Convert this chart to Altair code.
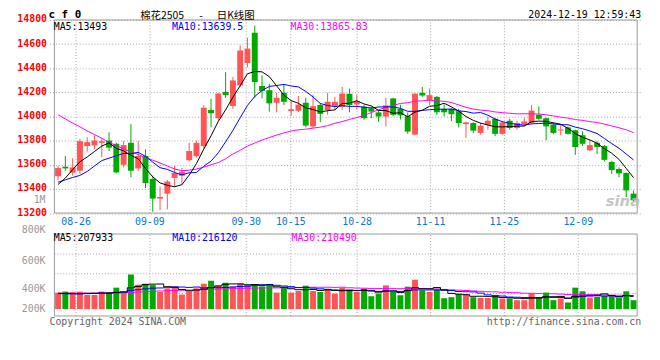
import altair as alt
import pandas as pd

# ---------------- data ----------------
opens = [13505,13584,13535,13551,13755,13761,13782,13801,13774,13600,
         13782,13570,13673,13483,13320,13361,13491,13510,13638,13673,
         13755,14054,13986,14204,14087,14258,14444,14694,14253,14218,
         14114,14196,14045,14048,14114,13918,14095,14054,14088,14080,
         14188,14100,14082,14068,14034,14000,14150,14063,14003,13850,
         14196,14136,14163,14063,14062,14044,13937,13946,13864,13932,
         13981,13856,13965,13905,13937,13946,14014,13986,13932,13884,
         13910,13886,13845,13720,13782,13755,13624,13565,13532,13361]
highs = [13590,13673,13654,13815,13829,13845,13823,13869,13782,13796,
         13937,13796,13728,13510,13420,13475,13592,13573,13782,13801,
         14095,14147,14196,14367,14327,14590,14653,14754,14340,14272,
         14196,14264,14133,14170,14155,14180,14109,14196,14163,14245,
         14231,14180,14095,14082,14054,14155,14155,14098,14034,14193,
         14245,14231,14169,14101,14068,14064,13956,13954,13946,14000,
         13986,13965,13981,13965,13992,14095,14082,13992,13946,13927,
         13918,13891,13878,13804,13796,13763,13633,13578,13537,13388]
lows = [13475,13551,13510,13524,13709,13728,13665,13714,13529,13578,
        13497,13551,13407,13211,13224,13230,13415,13437,13627,13660,
        13736,13910,13965,14155,14063,14245,14408,14155,14150,14041,
        14035,14095,14005,14038,13910,13905,13955,14014,14054,14054,
        14035,14058,13973,13986,13955,13918,14003,13975,13856,13845,
        14163,14095,14014,14000,13962,13910,13823,13864,13850,13891,
        13837,13850,13891,13891,13927,13937,13973,13804,13856,13845,
        13850,13682,13755,13714,13687,13627,13524,13497,13333,13300]
closes = [13573,13570,13578,13796,13788,13801,13796,13742,13537,13763,
          13551,13673,13448,13320,13333,13461,13532,13543,13714,13782,
          14073,14027,14190,14177,14299,14547,14563,14286,14212,14109,
          14155,14122,14060,14098,13925,14085,14022,14122,14122,14190,
          14095,14126,13986,14041,14000,14092,14014,14010,13875,14189,
          14174,14177,14035,14035,14019,13946,13951,13883,13924,13965,
          13856,13951,13905,13946,13959,14049,13981,13918,13864,13893,
          13856,13747,13774,13763,13747,13641,13556,13529,13388,13306]
vols = [267000,283000,277000,283000,229000,229000,283000,267000,347000,267000,
        560000,395000,411000,389000,277000,336000,347000,235000,288000,336000,
        411000,459000,379000,427000,363000,411000,389000,395000,368000,384000,
        267000,357000,267000,293000,379000,293000,277000,315000,251000,347000,
        304000,277000,331000,208000,251000,384000,277000,224000,363000,475000,
        304000,277000,320000,176000,192000,240000,235000,192000,181000,181000,
        213000,171000,171000,144000,144000,251000,192000,267000,144000,171000,
        107000,347000,288000,187000,197000,213000,208000,181000,288000,144000]
ma5 = [13437,13490,13560,13625,13665,13710,13755,13782,13736,13715,
       13678,13650,13570,13500,13450,13430,13418,13435,13515,13610,
       13730,13840,13960,14055,14160,14255,14354,14373,14370,14330,
       14255,14177,14132,14109,14072,14058,14038,14048,14055,14108,
       14110,14131,14104,14088,14050,14049,14027,14031,13998,14036,
       14052,14085,14090,14110,14080,14045,14000,13968,13945,13930,
       13915,13914,13916,13920,13921,13958,13962,13960,13948,13936,
       13902,13858,13828,13806,13778,13734,13696,13645,13570,13493]
ma10 = [13456,13475,13495,13512,13545,13590,13635,13655,13675,13694,
        13692,13703,13670,13622,13576,13562,13536,13516,13534,13536,
        13588,13630,13700,13790,13885,13990,14092,14166,14216,14249,
        14257,14266,14253,14245,14208,14162,14108,14091,14082,14090,
        14084,14084,14077,14071,14079,14080,14079,14068,14043,14043,
        14051,14056,14061,14060,14062,14047,14041,14028,14033,14011,
        13979,13957,13944,13935,13929,13939,13942,13945,13939,13932,
        13932,13912,13899,13880,13859,13818,13776,13737,13689,13640]
ma30 = [14014,13980,13945,13915,13880,13850,13820,13785,13760,13730,
        13709,13685,13660,13638,13615,13590,13565,13551,13555,13565,
        13580,13600,13619,13650,13690,13720,13755,13780,13805,13826,
        13846,13864,13880,13890,13895,13904,13912,13924,13944,13958,
        13976,13991,14009,14033,14055,14077,14093,14108,14114,14127,
        14130,14135,14130,14126,14116,14096,14076,14062,14053,14048,
        14038,14032,14027,14022,14023,14022,14021,14014,14005,13995,
        13987,13975,13968,13958,13950,13937,13922,13907,13890,13866]
vma5 = [256000,255000,252000,250000,255000,255000,258000,258000,271000,279000,
        345000,367000,396000,404000,406000,362000,352000,317000,297000,308000,
        323000,346000,375000,402000,408000,408000,394000,397000,385000,389000,
        361000,354000,329000,314000,313000,318000,302000,311000,303000,297000,
        299000,299000,302000,293000,274000,290000,290000,269000,300000,345000,
        329000,329000,348000,310000,254000,241000,233000,207000,208000,206000,
        200000,188000,183000,176000,169000,176000,180000,200000,200000,205000,
        176000,207000,211000,220000,225000,246000,219000,197000,217000,208000]
vma10 = [250000,248000,246000,246000,250000,254000,258000,260000,265000,274000,
         303000,313000,327000,338000,342000,354000,360000,357000,351000,357000,
         343000,349000,346000,350000,358000,366000,370000,386000,394000,399000,
         385000,374000,363000,350000,351000,340000,328000,320000,309000,305000,
         309000,301000,307000,298000,286000,295000,295000,286000,297000,310000,
         310000,310000,309000,305000,300000,285000,281000,278000,259000,230000,
         221000,211000,195000,192000,188000,188000,184000,192000,188000,187000,
         176000,194000,206000,210000,215000,211000,213000,204000,219000,216000]
vma30 = [255000,255000,256000,257000,258000,259000,260000,261000,263000,266000,
         270000,276000,282000,287000,292000,297000,301000,305000,308000,312000,
         315000,320000,324000,328000,332000,335000,338000,340000,342000,343000,
         343000,346000,345000,346000,351000,353000,353000,354000,351000,354000,
         345000,341000,338000,332000,332000,333000,331000,330000,333000,338000,
         334000,328000,326000,318000,312000,306000,301000,294000,288000,281000,
         279000,273000,270000,265000,257000,256000,253000,251000,248000,242000,
         235000,238000,236000,236000,234000,228000,226000,224000,222000,210000]

grid_labels = ["08-26", "09-09", "09-30", "10-15", "10-28", "11-11", "11-25", "12-09"]
grid_pos = [2.47, 12.61, 25.83, 31.94, 41.06, 51.14, 61.27, 71.41]
price_ticks = [13200, 13400, 13600, 13800, 14000, 14200, 14400, 14600, 14800]
vol_label_text = ["800K", "600K", "400K", "200K"]
vol_label_at = [1275000, 784000, 320000, 0]
vol_grid = [891000, 571000, 251000]

title_code = "c f 0"
title_parts = ["棉花2505", "-", "日K线图"]
stamp = "2024-12-19 12:59:43"
ma_texts = ["MA5:13493", "MA10:13639.5", "MA30:13865.83"]
vma_texts = ["MA5:207933", "MA10:216120", "MA30:210490"]
copyright_text = "Copyright 2024 SINA.COM"
url_text = "http://finance.sina.com.cn"

# ---------------- tables ----------------
n = len(closes)
df = pd.DataFrame({"i": list(range(n)), "open": opens, "high": highs, "low": lows,
                   "close": closes, "vol": vols, "ma5": ma5, "ma10": ma10, "ma30": ma30,
                   "vma5": vma5, "vma10": vma10, "vma30": vma30})
df["dir"] = ["up" if c >= o else "down" for o, c in zip(opens, closes)]
grid_df = pd.DataFrame({"pos": grid_pos, "label": grid_labels})
vlab_df = pd.DataFrame({"at": vol_label_at, "label": vol_label_text})
vgrid_df = pd.DataFrame({"v": vol_grid})

RED = "#ff5555"
GREEN = "#00aa00"
GRID = "#a8a8a8"
FRAME = "#999999"
MONO = "DejaVu Sans Mono"

xs = alt.Scale(domain=[-0.5, n - 0.5], nice=False, zero=False)
PY = alt.Scale(domain=[13200, 14800], range=[193.5, -2], nice=False, zero=False)
VY = alt.Scale(domain=[-112000, 1216000], range=[297.7, 214.7], nice=False, zero=False)
X = alt.X("i:Q", scale=xs, axis=None)
color = alt.Color("dir:N", scale=alt.Scale(domain=["up", "down"], range=[RED, GREEN]), legend=None)

base = alt.Chart(df)
one = pd.DataFrame({"k": [0]})

price_axis = alt.Axis(values=price_ticks, title=None, ticks=False, domain=False, grid=True,
                      gridColor=GRID, gridDash=[1, 2], gridWidth=1,
                      labelColor="#ff0000", labelFont=MONO, labelFontSize=10,
                      labelFontWeight="bold", labelPadding=3, labelFlush=False,
                      labelOverlap=False, labelOffset=-1, format="d")

layers = []

# vertical grid lines
layers.append(alt.Chart(grid_df).mark_rule(color=GRID, strokeDash=[1, 2]).encode(
    x=alt.X("pos:Q", scale=xs, axis=None),
    y=alt.YDatum(13200, type="quantitative", scale=PY, axis=None),
    y2=alt.Y2Datum(14800)))
layers.append(alt.Chart(grid_df).mark_rule(color=GRID, strokeDash=[1, 2]).encode(
    x=alt.X("pos:Q", scale=xs, axis=None),
    y=alt.YDatum(-112000, type="quantitative", scale=VY, axis=None),
    y2=alt.Y2Datum(1216000)))
# volume horizontal grid
layers.append(alt.Chart(vgrid_df).mark_rule(color=GRID, strokeDash=[1, 2]).encode(
    x=alt.XDatum(-0.5, type="quantitative", scale=xs, axis=None),
    x2=alt.X2Datum(n - 0.5),
    y=alt.Y("v:Q", scale=VY, axis=None)))

# candles
layers.append(base.mark_rule(strokeWidth=1).encode(
    x=X, y=alt.Y("low:Q", scale=PY, axis=price_axis), y2="high:Q", color=color))
layers.append(base.mark_bar(size=6).encode(
    x=X, y=alt.Y("open:Q", scale=PY, axis=None), y2="close:Q", color=color))

# price moving averages
for f, c in [("ma30", "#ff00ff"), ("ma10", "#0000ff"), ("ma5", "#000000")]:
    layers.append(base.mark_line(color=c, strokeWidth=1).encode(
        x=X, y=alt.Y(f + ":Q", scale=PY, axis=None)))

# volume bars
layers.append(base.mark_bar(size=6).encode(
    x=X, y=alt.Y("vol:Q", scale=VY, axis=None), y2=alt.Y2Datum(0), color=color))
for f, c in [("vma30", "#ff00ff"), ("vma10", "#0000ff"), ("vma5", "#000000")]:
    layers.append(base.mark_line(color=c, strokeWidth=1, interpolate="step").encode(
        x=X, y=alt.Y(f + ":Q", scale=VY, axis=None)))

# frames
layers.append(alt.Chart(one).mark_rect(fillOpacity=0, stroke=FRAME, strokeWidth=1).encode(
    x=alt.XDatum(-0.5, type="quantitative", scale=xs, axis=None), x2=alt.X2Datum(n - 0.5),
    y=alt.YDatum(13200, type="quantitative", scale=PY, axis=None), y2=alt.Y2Datum(14800)))
layers.append(alt.Chart(one).mark_rect(fillOpacity=0, stroke=FRAME, strokeWidth=1).encode(
    x=alt.XDatum(-0.5, type="quantitative", scale=xs, axis=None), x2=alt.X2Datum(n - 0.5),
    y=alt.YDatum(-112000, type="quantitative", scale=VY, axis=None), y2=alt.Y2Datum(1216000)))

# volume axis labels
layers.append(alt.Chart(vlab_df).mark_text(align="right", baseline="middle", font=MONO,
                                           fontSize=10, color="#999999").encode(
    x=alt.value(-4), y=alt.Y("at:Q", scale=VY, axis=None), text="label:N"))
# date labels
layers.append(alt.Chart(grid_df).mark_text(align="center", baseline="alphabetic", font=MONO,
                                           fontSize=10, color="#0a78d2").encode(
    x=alt.X("pos:Q", scale=xs, axis=None), y=alt.value(205.3), text="label:N"))


def label(txt, x, y, color="#000000", align="left", size=10, font=MONO, weight="normal", **kw):
    return alt.Chart(pd.DataFrame({"t": [txt]})).mark_text(
        align=align, baseline="alphabetic", font=font, fontSize=size, fontWeight=weight,
        color=color, **kw).encode(x=alt.value(x), y=alt.value(y), text="t:N")


CJK = "Noto Sans CJK SC"
layers += [
    label(title_code, -1, -4, size=11, weight="bold"),
    label(title_parts[0], 114, -3, align="center", size=10.5, font=CJK),
    label(title_parts[1], 153.5, -3, align="center", size=10.5, font=CJK),
    label(title_parts[2], 188.5, -3, align="center", size=10.5, font=CJK),
    label(stamp, 599, -4, align="right"),
    label(ma_texts[0], 4.3, 8, color="#000000"),
    label(ma_texts[1], 124, 8, color="#0000ff"),
    label(ma_texts[2], 244, 8, color="#ff00ff"),
    label(vma_texts[0], 4.3, 222, color="#000000"),
    label(vma_texts[1], 124.3, 222, color="#0000ff"),
    label(vma_texts[2], 245, 222, color="#ff00ff"),
    label("1M", -4, 183.7, color="#999999", align="right"),
    label(copyright_text, 0, 307, color="#666666"),
    label(url_text, 599, 307, color="#666666", align="right"),
    label("sina", 598, 186, color="#bdbdbd", align="right", size=15, font="DejaVu Sans",
          weight="bold", fontStyle="italic", opacity=0.85),
]

chart = alt.layer(*layers).resolve_scale(y="independent").properties(
    width=600, height=298,
    autosize=alt.AutoSizeParams(type="none"),
    padding={"left": 42, "top": 12, "right": 10, "bottom": 30},
).configure_view(strokeWidth=0)

chart.save("out.html", embed_options={"renderer": "svg", "actions": False})
